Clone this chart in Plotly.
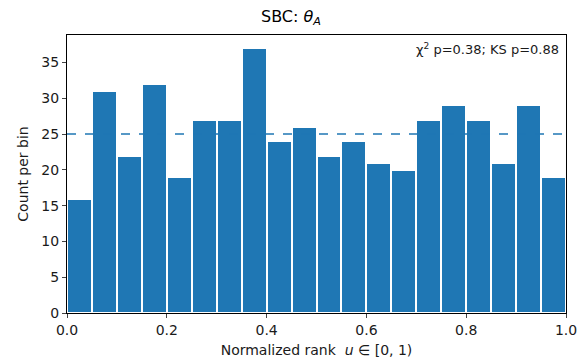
import plotly.graph_objects as go

bin_left = [i * 0.05 for i in range(20)]
counts = [16, 31, 22, 32, 19, 27, 27, 37, 24, 26, 22, 24, 21, 20, 27, 29, 27, 21, 29, 19]
expected = 25
bin_width = 0.05
stats_text = "χ<sup>2</sup> p=0.38; KS p=0.88"
blue = "#1f77b4"

fig = go.Figure()
fig.add_trace(go.Bar(
    x=[b + bin_width / 2 for b in bin_left], y=counts, width=[bin_width] * len(counts),
    marker=dict(color=blue, line=dict(color="white", width=2)),
    showlegend=False,
))
fig.add_trace(go.Scatter(
    x=[0, 1], y=[expected, expected], mode="lines",
    line=dict(color=blue, dash="dash", width=1.5), showlegend=False,
))
fig.update_layout(
    width=582, height=364,
    margin=dict(l=67, r=16, t=35, b=51),
    paper_bgcolor="white", plot_bgcolor="white",
    font=dict(family="DejaVu Sans", size=14, color="#1a1a1a"),
    title=dict(text="SBC: <i>θ</i><sub><i>A</i></sub>", x=0.5, xanchor="center",
               y=0.955, yanchor="middle", font=dict(size=16, color="black")),
    bargap=0,
    xaxis=dict(range=[0, 1], tickvals=[0, 0.2, 0.4, 0.6, 0.8, 1.0],
               ticktext=["0.0", "0.2", "0.4", "0.6", "0.8", "1.0"],
               ticks="outside", ticklen=4, showgrid=False, zeroline=False,
               showline=True, linecolor="black", linewidth=1, mirror=True,
               tickfont=dict(size=14), automargin=False,
               title=dict(text="Normalized rank  <i>u</i> ∈ [0, 1)", standoff=8, font=dict(size=14))),
    yaxis=dict(range=[0, 38.85], tickvals=[0, 5, 10, 15, 20, 25, 30, 35],
               ticks="outside", ticklen=4, showgrid=False, zeroline=False,
               showline=True, linecolor="black", linewidth=1, mirror=True,
               tickfont=dict(size=14), automargin=False,
               title=dict(text="Count per bin", standoff=9, font=dict(size=14))),
    annotations=[dict(text=stats_text, xref="paper", yref="paper", x=0.99, y=0.985,
                      xanchor="right", yanchor="top", showarrow=False, font=dict(size=13))],
)
fig.write_html("out.html")
